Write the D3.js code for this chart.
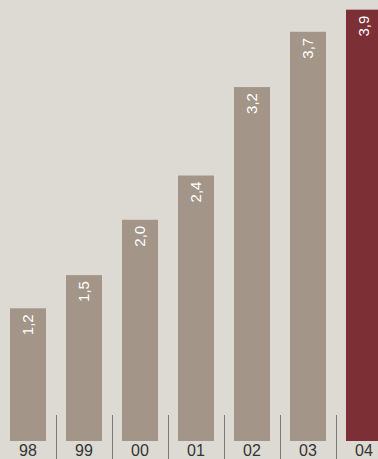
<!DOCTYPE html>
<html>
<head>
<meta charset="utf-8">
<script src="https://cdn.jsdelivr.net/npm/d3@7"></script>
<style>
  html, body { margin: 0; padding: 0; background: #dddad4; }
  svg { display: block; }
</style>
</head>
<body>
<svg class="chart"></svg>
<script>
const years = ["98", "99", "00", "01", "02", "03", "04"];
const values = [1.2, 1.5, 2.0, 2.4, 3.2, 3.7, 3.9];
const valueLabels = ["1,2", "1,5", "2,0", "2,4", "3,2", "3,7", "3,9"];

const width = 378,
  height = 459,
  base = 441,
  barColor = "#a39689",
  lastColor = "#7c2f35";

const chart = d3.select(".chart")
  .attr("width", width)
  .attr("height", height);

const x = d3.scaleBand()
  .domain(years)
  .range([0, 392])
  .paddingInner(20 / 56)
  .paddingOuter(10 / 56);

const y = d3.scaleLinear()
  .domain([0, 4])
  .range([base, base - 442.4]);

// separators between years
chart.append("g").selectAll("line")
  .data(years.slice(1))
  .enter().append("line")
  .attr("x1", d => x(d) - 10 + 0.5)
  .attr("x2", d => x(d) - 10 + 0.5)
  .attr("y1", 415)
  .attr("y2", height)
  .attr("stroke", "#7a7a7a")
  .attr("stroke-width", 1);

const bar = chart.append("g").selectAll("g")
  .data(values)
  .enter().append("g")
  .attr("transform", (d, i) => `translate(${x(years[i])}, 0)`);

bar.append("rect")
  .attr("y", d => y(d))
  .attr("width", x.bandwidth())
  .attr("height", d => base - y(d))
  .attr("fill", (d, i) => i === values.length - 1 ? lastColor : barColor);

bar.append("text")
  .attr("transform", d => `translate(${x.bandwidth() / 2 + 5}, ${y(d) + 6}) rotate(-90)`)
  .attr("text-anchor", "end")
  .attr("fill", "#ffffff")
  .style("font-family", "Liberation Sans, Arial, sans-serif")
  .style("font-size", "15px")
  .text((d, i) => valueLabels[i]);

chart.append("g").selectAll("text")
  .data(years)
  .enter().append("text")
  .attr("x", d => x(d) + x.bandwidth() / 2)
  .attr("y", 456)
  .attr("text-anchor", "middle")
  .attr("fill", "#333333")
  .style("font-family", "Liberation Sans, Arial, sans-serif")
  .style("font-size", "16px")
  .text(d => d);
</script>
</body>
</html>
